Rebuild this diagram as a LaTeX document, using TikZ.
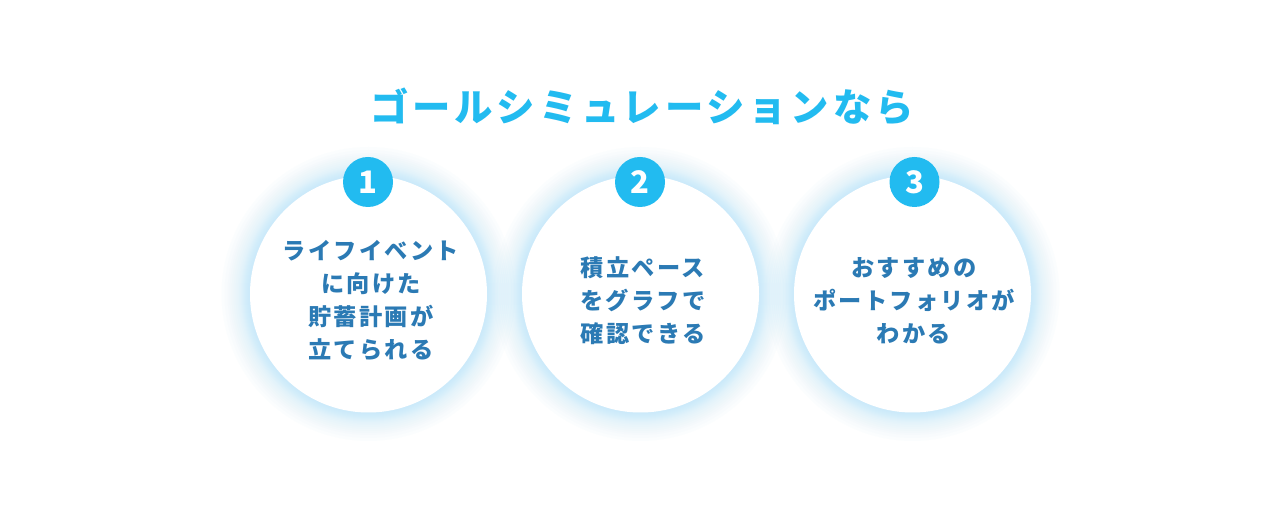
\documentclass[tikz,border=0pt]{standalone}
\usepackage{fontspec}
\usepackage{tikz}
\setmainfont{Noto Sans CJK JP}
\newfontfamily\jpbold[LetterSpace=10]{Noto Sans CJK JP Black}
\definecolor{sky}{HTML}{22BBF0}
\definecolor{deep}{HTML}{2B7AB4}
\definecolor{halo}{HTML}{7FD0FA}

\begin{document}
\begin{tikzpicture}[x=1pt,y=1pt]
\tikzstyle{goal}=[circle,fill=white,draw=none,minimum size=237pt,inner sep=0pt]
\tikzstyle{badge}=[circle,fill=sky,text=white,minimum size=50pt,inner sep=0pt,font=\jpbold\fontsize{31}{31}\selectfont]
\tikzstyle{goaltext}=[text=deep,align=center,inner sep=0pt,font=\jpbold\fontsize{23.2}{33}\selectfont]
\tikzstyle{title}=[text=sky,inner sep=0pt,font=\jpbold\fontsize{38.4}{38}\selectfont]
\useasboundingbox (0,0) rectangle (1280,532);
\fill[white] (0,0) rectangle (1280,532);
\foreach \x in {368.5,640.5,912.5}
  \foreach \r in {147,144,141,139,137,135,133,131,129.5,128,127,126,125,124,123,122,121,120}
    \fill[halo,opacity=0.024] (\x,238) circle (\r);
\node[title] (head) at (642,425) {ゴールシミュレーションなら};
\node[goal] (goal1) at (368.5,238) {};
\node[goal] (goal2) at (640.5,238) {};
\node[goal] (goal3) at (912.5,238) {};
\node[badge] (num1) at (368,350) {1};
\node[badge] (num2) at (640,350) {2};
\node[badge] (num3) at (914.5,350) {3};
\node[goaltext] (text1) at (371,231.5) {ライフイベント\\に向けた\\貯蓄計画が\\立てられる};
\node[goaltext] (text2) at (643,231.5) {積立ペース\\をグラフで\\確認できる};
\node[goaltext] (text3) at (914,231.5) {おすすめの\\ポートフォリオが\\わかる};
\end{tikzpicture}
\end{document}
